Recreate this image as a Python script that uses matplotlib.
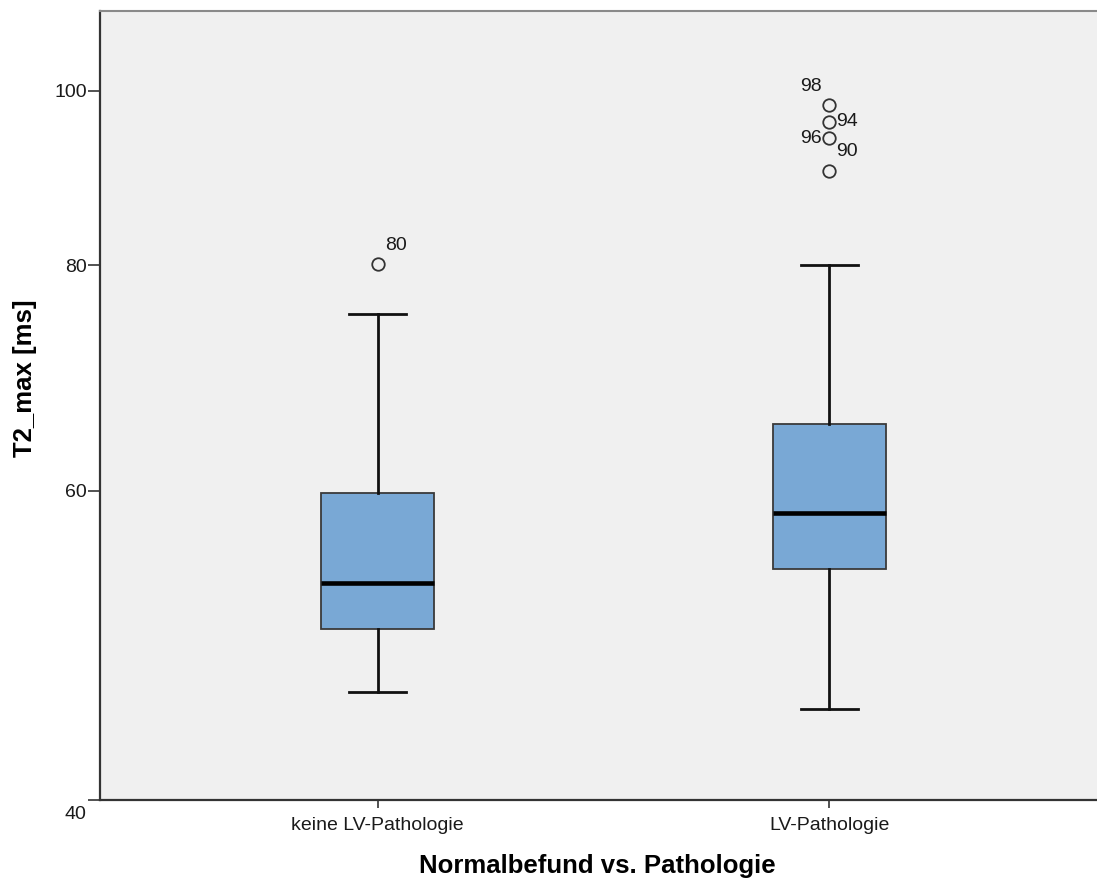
import matplotlib
matplotlib.use("Agg")
import matplotlib.pyplot as plt
from matplotlib.ticker import NullLocator
from matplotlib.transforms import ScaledTranslation

# ---- data -------------------------------------------------------------
groups = ["keine LV-Pathologie", "LV-Pathologie"]
q1 = [50.3, 54.3]
median = [53.3, 58.3]
q3 = [59.8, 65.3]
whisker_low = [46.4, 45.4]
whisker_high = [75.2, 80.0]
outlier_values = [[80.1], [98.2, 96.1, 94.1, 90.2]]
outlier_cases = [["80"], ["98", "94", "96", "90"]]
y_tick_labels = ["40", "60", "80", "100"]
y_tick_values = [60, 80, 100]

x_label = "Normalbefund vs. Pathologie"
y_label = "T2_max [ms]"

# ---- style ------------------------------------------------------------
plt.rcParams["font.family"] = ["Liberation Sans", "DejaVu Sans"]
BOX_FILL = "#79a8d5"
PANEL_BG = "#f0f0f0"
TEXT_COL = "#1a1a1a"
y_floor, y_ceil = 40.42, 110.7
# label offsets (points) for case numbers next to each outlier
case_offsets = [[(13.5, 13.5)], [(-13, 13), (13, 0.5), (-13.5, 0), (13, 14)]]

W, H = 1097, 881
fig = plt.figure(figsize=(W / 100, H / 100), dpi=100)
fig.patch.set_facecolor("white")
ax = fig.add_axes([100 / W, (H - 800) / H, (1107 - 100) / W, (800 - 11) / H])
ax.set_facecolor(PANEL_BG)

positions = list(range(1, len(groups) + 1))
stats = []
for i in range(len(groups)):
    stats.append(dict(med=median[i], q1=q1[i], q3=q3[i],
                      whislo=whisker_low[i], whishi=whisker_high[i],
                      fliers=outlier_values[i], label=groups[i]))

ax.bxp(stats, positions=positions, widths=0.25, capwidths=0.126,
       patch_artist=True, showfliers=True,
       boxprops=dict(facecolor=BOX_FILL, edgecolor="#3a3a3a", linewidth=1.3),
       medianprops=dict(color="black", linewidth=3.3, solid_capstyle="butt"),
       whiskerprops=dict(color="#111111", linewidth=2.0),
       capprops=dict(color="#111111", linewidth=2.0),
       flierprops=dict(marker="o", markersize=9, markerfacecolor="none",
                       markeredgecolor="#333333", markeredgewidth=1.3))

# case numbers of the outliers
for i, (vals, cases) in enumerate(zip(outlier_values, outlier_cases)):
    for v, c, off in zip(vals, cases, case_offsets[i]):
        ax.annotate(c, xy=(positions[i], v), xytext=off, textcoords="offset points",
                    ha="center", va="center", fontsize=14, color=TEXT_COL)

ax.set_yscale("log")
ax.set_ylim(y_floor, y_ceil)
ax.set_xlim(0.3851, 2.6149)
ax.yaxis.set_minor_locator(NullLocator())
ax.set_yticks([y_floor] + y_tick_values)
ax.set_yticklabels(y_tick_labels)
ax.set_xticks(positions)
ax.set_xticklabels(groups)

ax.tick_params(axis="y", length=8.4, width=1.2, pad=1.2, labelsize=14,
               colors="#333333", labelcolor=TEXT_COL)
ax.tick_params(axis="x", length=6, width=1.2, pad=6, labelsize=14,
               colors="#333333", labelcolor=TEXT_COL)

# the floor label sits just below the axis line
floor_label = ax.get_yticklabels()[0]
floor_label.set_va("top")
floor_label.set_transform(floor_label.get_transform()
                          + ScaledTranslation(0, -4 / 72, fig.dpi_scale_trans))

for side in ("left", "bottom"):
    ax.spines[side].set_color("#333333")
    ax.spines[side].set_linewidth(1.6)
ax.spines["top"].set_color("#8a8a8a")
ax.spines["top"].set_linewidth(1.5)
ax.spines["right"].set_visible(False)

fig.text(597 / W, 1 - 866 / H, x_label, ha="center", va="center",
         fontsize=18.5, fontweight="bold", color="black")
fig.text(25 / W, 1 - 378 / H, y_label, ha="center", va="center",
         rotation=90, fontsize=18.5, fontweight="bold", color="black")

fig.savefig("out.png", dpi=100, facecolor="white")
